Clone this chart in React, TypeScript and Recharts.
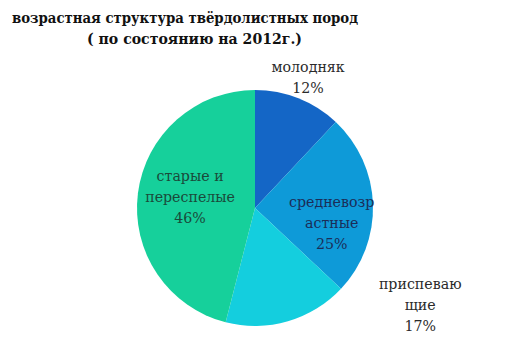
import React from 'react';
import { PieChart, Pie, Cell } from 'recharts';

const categories: string[] = ['молодняк', 'средневозрастные', 'приспевающие', 'старые и переспелые'];
const values: number[] = [12, 25, 17, 46];
const labelLines: string[][] = [
  ['молодняк', '12%'],
  ['средневозр', 'астные', '25%'],
  ['приспеваю', 'щие', '17%'],
  ['старые и', 'переспелые', '46%'],
];
const titleLines: string[] = ['возрастная структура твёрдолистных пород', '( по состоянию на 2012г.)'];

const colors = ['#1466c6', '#0e9ad8', '#14cede', '#16d09b'];
const textColors = ['#2a2a2a', '#1b2d58', '#2a2a2a', '#1a4a3a'];
// label anchor relative to pie centre, in units of the outer radius
const placement = [
  { x: 0.45, y: -1.11 },
  { x: 0.65, y: 0.13 },
  { x: 1.4, y: 0.82 },
  { x: -0.55, y: -0.09 },
];

const data = categories.map((name, i) => ({ name, value: values[i] }));

const FONT = "'DejaVu Serif', serif";

const renderLabel = (props: any) => {
  const { cx, cy, outerRadius, index } = props;
  const p = placement[index];
  const x = cx + p.x * outerRadius;
  const y = cy + p.y * outerRadius;
  const lines = labelLines[index];
  const lh = 21;
  const startY = y - ((lines.length - 1) * lh) / 2;
  return (
    <text
      key={`lbl-${index}`}
      x={x}
      y={startY}
      textAnchor="middle"
      dominantBaseline="central"
      style={{ fontFamily: FONT, fontSize: 14.2 }}
      fill={textColors[index]}
    >
      {lines.map((l, k) => (
        <tspan key={k} x={x} y={startY + k * lh} dominantBaseline="central">
          {l}
        </tspan>
      ))}
    </text>
  );
};

export default function App() {
  return (
    <div style={{ position: 'absolute', left: 0, top: 0, width: 509, height: 362, background: '#fff' }}>
      <svg width={509} height={60} style={{ position: 'absolute', left: 0, top: 0 }}>
        <text x={12} y={18} textLength={346} lengthAdjust="spacingAndGlyphs" dominantBaseline="central" style={{ fontFamily: FONT, fontWeight: 'bold', fontSize: 15 }} fill="#111">
          {titleLines[0]}
        </text>
        <text x={87} y={39} textLength={215} lengthAdjust="spacingAndGlyphs" dominantBaseline="central" style={{ fontFamily: FONT, fontWeight: 'bold', fontSize: 15 }} fill="#111">
          {titleLines[1]}
        </text>
      </svg>
      <div style={{ position: 'absolute', left: 0, top: 0 }}>
        <PieChart width={509} height={362} margin={{ top: 0, right: 0, bottom: 0, left: 0 }}>
          <Pie
            data={data}
            dataKey="value"
            nameKey="name"
            cx={255}
            cy={208}
            outerRadius={118}
            startAngle={90}
            endAngle={-270}
            stroke="none"
            label={renderLabel}
            labelLine={false}
            isAnimationActive={false}
          >
            {data.map((d, i) => (
              <Cell key={d.name} fill={colors[i]} stroke="none" />
            ))}
          </Pie>
        </PieChart>
      </div>
    </div>
  );
}
